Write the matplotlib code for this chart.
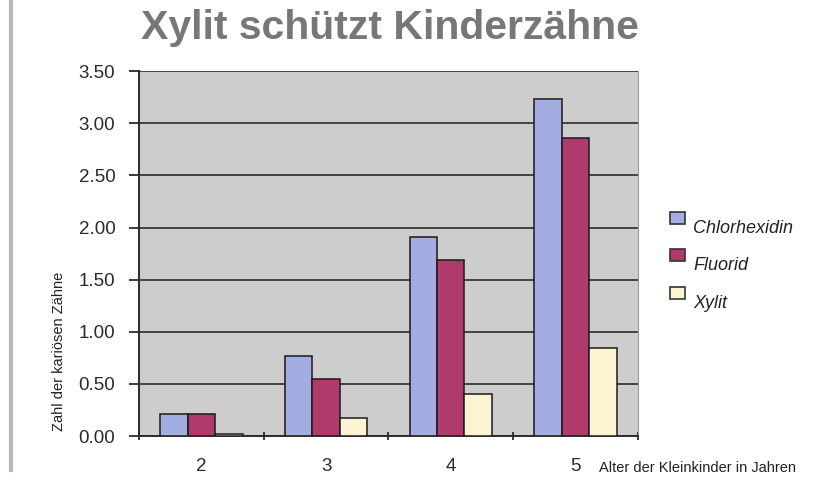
import matplotlib.pyplot as plt
import numpy as np
from matplotlib.patches import Rectangle

# Werte
ages = ["2", "3", "4", "5"]
chlorhexidin = [0.21, 0.77, 1.91, 3.23]
fluorid = [0.21, 0.55, 1.69, 2.86]
xylit = [0.02, 0.17, 0.40, 0.84]
series_names = ["Chlorhexidin", "Fluorid", "Xylit"]
colors = ["#a3ade2", "#b03a6c", "#fcf3d2"]

plt.rcParams['font.family'] = ['Liberation Sans', 'DejaVu Sans']

fig = plt.figure(figsize=(8.34, 4.9), dpi=100)
ax = fig.add_axes([0.1667, 0.110, 0.598, 0.745])
ax.set_facecolor("#cdcdcd")

x = np.arange(len(ages))
w = 0.22
for i, vals in enumerate([chlorhexidin, fluorid, xylit]):
    ax.bar(x + (i - 1) * w, vals, w, color=colors[i], edgecolor="#1a1a1a",
           linewidth=1.1, zorder=3, label=series_names[i])

ax.set_ylim(0, 3.5)
ax.set_xlim(-0.5, 3.5)
ax.set_yticks(np.arange(0, 3.51, 0.5))
ax.set_yticklabels([f"{v:.2f}" for v in np.arange(0, 3.51, 0.5)], fontsize=13.5, color="#2a2a2a")
ax.yaxis.grid(True, color="#2b2b2b", linewidth=1.2, zorder=1)

# x ticks an den Kategoriegrenzen, Beschriftung in der Mitte
ax.set_xticks(np.arange(-0.5, 3.6, 1.0))
ax.set_xticklabels([])
ax.set_xticks(x, minor=True)
ax.set_xticklabels(ages, minor=True, fontsize=13.5, color="#2a2a2a")
ax.tick_params(axis="x", which="minor", length=0, pad=16)
ax.tick_params(axis="x", which="major", length=6, width=1.3, direction="inout", color="#2b2b2b")
ax.tick_params(axis="y", length=7, width=1.3, direction="out", color="#2b2b2b", pad=10)

ax.spines["top"].set_visible(False)
ax.spines["right"].set_color("#9a9a9a")
ax.spines["left"].set_color("#2b2b2b")
ax.spines["left"].set_linewidth(1.4)
ax.spines["bottom"].set_color("#2b2b2b")
ax.spines["bottom"].set_linewidth(1.4)

fig.text(0.468, 0.942, "Xylit schützt Kinderzähne", ha="center", va="center",
         fontsize=29.5, fontweight="bold", color="#76777b")
fig.text(0.718, 0.044, "Alter der Kleinkinder in Jahren", ha="left", va="center",
         fontsize=10.5, color="#222222")
fig.text(0.071, 0.282, "Zahl der kariösen Zähne", ha="center", va="center",
         rotation=90, fontsize=10.5, color="#222222")

# linke graue Randlinie
fig.add_artist(plt.Line2D([0.013, 0.013], [0.04, 1.0], color="#b8b8b8", linewidth=3))

# Legende: Kästchen etwas oberhalb der Beschriftung
leg_top = [212, 249, 287]
for i, name in enumerate(series_names):
    y0 = leg_top[i]
    fig.add_artist(Rectangle((670 / 834, 1 - (y0 + 12) / 490), 15 / 834, 12 / 490,
                             facecolor=colors[i], edgecolor="#333333", linewidth=1.2,
                             transform=fig.transFigure))
    fig.text(693 / 834, 1 - (y0 + 16) / 490, name, ha="left", va="center",
             fontsize=13, style="italic", color="#222222")

fig.savefig("out.png", dpi=100)
